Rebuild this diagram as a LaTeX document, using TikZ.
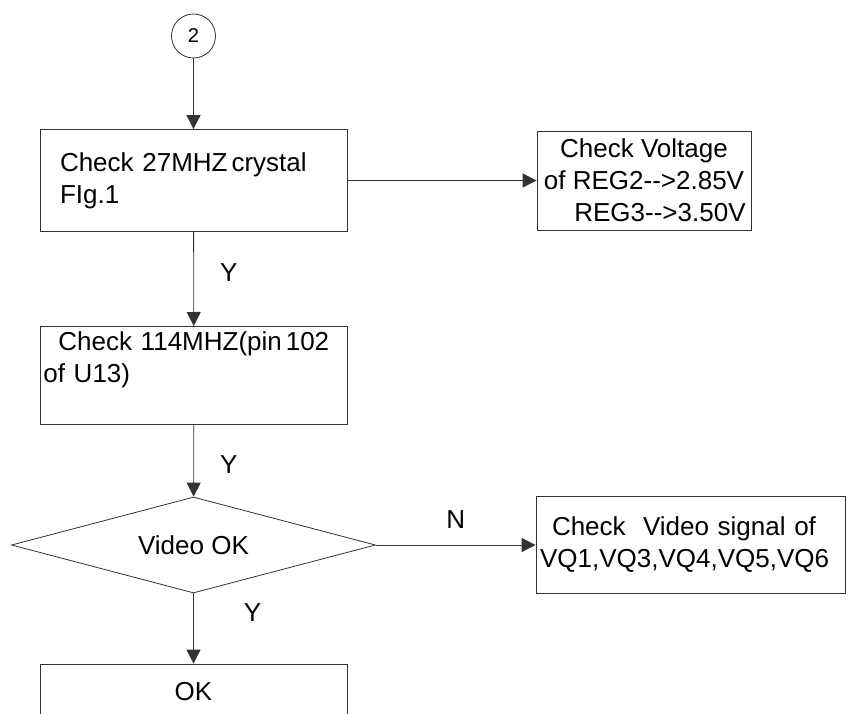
\documentclass[tikz,border=0pt]{standalone}
\usepackage{fontspec}
\setmainfont{Liberation Sans}
\usepackage{tikz}
\usetikzlibrary{positioning,arrows.meta,shapes.geometric}

\begin{document}
\begin{tikzpicture}[
  x=1pt, y=-1pt,
  every node/.style={font=\fontsize{26}{32}\selectfont, text=black},
  box/.style={
    rectangle, draw=black!80, line width=0.8pt,
    minimum width=307pt, align=left
  },
  decision/.style={
    diamond, draw=black!80, line width=0.8pt, aspect=3.8, inner sep=0pt,
    minimum width=364pt, minimum height=96pt
  },
  connector/.style={
    circle, draw=black!80, line width=0.8pt, minimum size=44pt, inner sep=0pt,
    font=\fontsize{20}{24}\selectfont
  },
  arrow/.style={-{Triangle[length=14pt,width=14pt]}, draw=black!80, line width=0.8pt}
]
\useasboundingbox (0,0) rectangle (848,714);
\clip (0,0) rectangle (848,714);

\node[connector] (c2) at (193.5,36) {2};
\node[box, minimum height=102pt, text width=267pt, inner xsep=20pt] (xtal) at (193.5,180.5) {Check 27MHZ\hspace{4pt}crystal\\FIg.1};
\node[box, minimum width=214pt, minimum height=99pt, align=center, inner sep=0pt] (volt) at (644,180.5) {Check Voltage\\of REG2-{}-{}>2.85V\\\hspace*{32pt}REG3-{}-{}>3.50V};
\node[box, anchor=north west, text width=301pt, inner xsep=3pt, inner ysep=5pt, text height=19pt, text depth=69pt] (clk) at (40,326) {\hspace*{15pt}Check 114MHZ(pin\hspace{4pt}102\\of U13)};
\node[decision] (video) at (193.5,545) {Video OK};
\node[box, minimum width=309pt, minimum height=97pt, text width=301pt, inner xsep=4pt] (vq) at (690.5,545) {\hspace*{12pt}Check\ \ Video signal of\\VQ1,VQ3,VQ4,VQ5,VQ6};
\node[box, minimum height=56pt, align=center] (ok) at (193.5,692) {OK};

\draw[arrow] (c2) -- (xtal);
\draw[arrow] (xtal) -- (volt);
\draw[arrow] (xtal) -- node[pos=0.43, xshift=35pt] {Y} (clk);
\draw[arrow] (clk) -- node[pos=0.56, xshift=35pt] {Y} (video);
\draw[arrow] (video) -- node[pos=0.5, yshift=25pt] {N} (vq);
\draw[arrow] (video) -- node[pos=0.27, xshift=59pt] {Y} (ok);
\end{tikzpicture}
\end{document}
